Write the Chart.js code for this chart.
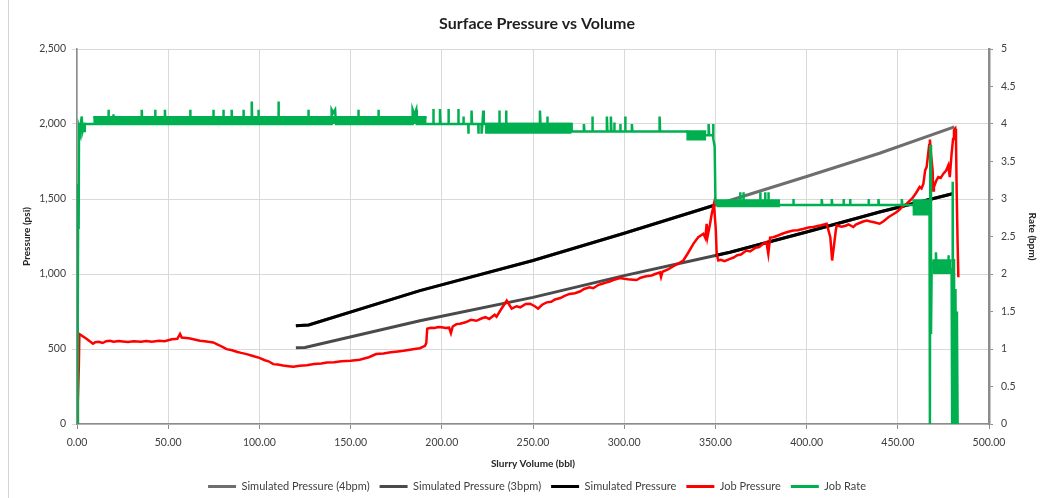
<!DOCTYPE html>
<html><head><meta charset="utf-8">
<script src="https://cdn.jsdelivr.net/npm/chart.js@4.4.1/dist/chart.umd.min.js"></script>
<style>
html,body{margin:0;padding:0;background:#fff;}
#wrap{position:relative;width:1058px;height:498px;}
#frame{position:absolute;left:8px;top:0;width:0;height:498px;border-left:1px solid #d4d4d4;}
canvas{position:absolute;left:0;top:0;}
</style>
</head><body>
<div id="wrap"><div id="frame"></div><canvas id="c" width="1058" height="498"></canvas></div>
<script>
// ---- data (x = slurry volume bbl) ----
const sim4Volume   = [120, 127, 188, 250, 300, 349, 400, 440, 481];
const sim4Pressure = [655, 660, 889, 1090, 1272, 1457, 1650, 1805, 1981];

const sim3Volume   = [120, 125, 188, 250, 300, 350, 358, 400, 440, 480];
const sim3Pressure = [508, 510, 688, 844, 989, 1123, 1145, 1280, 1413, 1535];

const simVolume    = [120, 127, 188, 250, 300, 349, 349.5, 350, 358, 400, 440, 480];
const simPressure  = [655, 660, 889, 1090, 1272, 1457, null, 1123, 1145, 1280, 1413, 1535];

const jobPressure = [
 [0,0],[0.5,150],[1,380],[1.3,600],[2.5,590],[5,570],[8.8,535],[10,545],[12,548],[14,540],[16,552],[18,555],
 [20,548],[23,553],[25,550],[28,546],[31,551],[35,548],[38,553],[41,549],[45,555],[48,552],[52,565],[55,568],
 [56.5,600],[57.4,577],[60,574],[62,570],[65,562],[67.4,555],[70,552],[72,548],[74.7,544],[78,525],
 [80,512],[82,499],[85,492],[88,480],[90,474],[93,466],[96,455],[100,441],[103,425],[105,418],[107.6,399],
 [110,396],[113,390],[116,385],[118.6,381],[122,388],[126,392],[130,400],[134,404],[137,410],[141,412],
 [145,418],[150,422],[155,428],[158,438],[160,445],[164,466],[168,470],[172,478],[176,484],[179,488],[182.6,495],
 [185,500],[188,505],[190.8,521],[191.5,540],[192,635],[194,642],[196,640],[198,646],[200,645],[202,640],
 [204,642],[205,605],[206,650],[208,666],[210,668],[213,678],[216,695],[219,688],[222,705],[224,712],
 [226,700],[229,728],[230,715],[232,755],[235.6,822],[238.3,769],[241,785],[243,778],[246,800],[248.4,802],
 [251,785],[252.8,769],[255,795],[257.5,811],[260,815],[262,830],[265,840],[267,852],[270,867],[273,872],
 [276,885],[278,900],[281,911],[283,905],[286,928],[288,935],[290.4,944],[292,950],[294,960],[297.7,973],
 [300,968],[302,965],[305,962],[306.8,960],[309,975],[312,985],[315,990],[317,1000],[319.6,1011],[320.2,980],
 [321,1015],[324,1030],[326,1045],[329,1065],[332.4,1090],[335,1140],[337.9,1201],[340.6,1245],[343.4,1268],[344.5,1240],
 [345.2,1335],[345.7,1250],[347,1330],[348,1402],[349.2,1468],[350.2,1300],[350.7,1134],[351.6,1090],[353,1095],[355,1085],
 [358,1101],[360,1110],[362,1125],[364,1130],[367,1156],[369,1150],[372,1175],[374,1180],[376,1200],[378,1212],
 [379,1134],[380,1243],[381.8,1245],[384,1255],[387,1270],[390,1282],[392.7,1290],[395,1292],[398,1300],[401,1310],
 [403.7,1313],[406,1320],[408,1325],[411,1335],[413,1245],[414,1090],[416,1290],[416.5,1324],[419,1315],[421,1320],
 [423,1330],[425.6,1313],[427,1330],[429,1340],[431,1350],[433,1357],[435,1350],[437,1345],[440,1335],[442,1350],
 [445,1380],[447,1395],[449.4,1413],[451,1430],[453,1455],[455,1470],[456.7,1490],[458,1505],[460,1540],[462,1580],
 [463,1570],[464,1600],[465,1691],[465.8,1713],[467.2,1860],[467.6,1896],[468.2,1800],[469.1,1691],[469.4,1557],[469.8,1580],
 [471,1620],[472.2,1646],[473.5,1640],[475,1669],[476.5,1690],[477.7,1725],[478.5,1646],[479.5,1803],[480.3,1900],[480.8,1958],
 [481.5,1969],[481.9,1900],[482.3,1535],[482.8,1200],[483.2,978]
];

const jobRate = [
 [0,0],[0.3,1.2],[0.4,2.4],[0.5,1.4],[0.7,3.2],[0.9,2.6],[1.1,3.95],[1.6,3.9],[2.6,4.1],[3.0,3.9],[4,4.0],[5,4.0],
 [10.8,4.0],[10.8,4.1],[11.1,4.0],[13.5,4.0],[13.5,4.1],[13.8,4.0],[17.2,4.0],[17.2,4.19],[17.5,4.0],
 [20,4.0],[20,4.13],[20.3,4.0],[22.8,4.0],[22.8,4.1],[23.1,4.0],[35.5,4.0],[35.5,4.19],[35.8,4.0],
 [42.8,4.0],[42.8,4.19],[43.1,4.0],[48.2,4.0],[48.2,4.19],[48.5,4.0],[62,4.0],[62,4.19],[62.3,4.0],
 [74.7,4.0],[74.7,4.19],[75,4.0],[80.2,4.0],[80.2,4.19],[80.5,4.0],[84.8,4.0],[84.8,4.19],[85.1,4.0],
 [91.2,4.0],[91.2,4.19],[91.5,4.0],[95.8,4.0],[95.8,4.3],[96.1,4.0],[99.4,4.0],[99.4,4.19],[99.7,4.0],
 [110.4,4.0],[110.4,4.3],[110.7,4.0],[126.8,4.0],[126.8,4.19],[127.1,4.0],[139.6,4.0],[139.6,4.19],[140.5,4.15],
 [141.5,4.19],[142,4.0],[154.2,4.0],[154.2,4.19],[154.5,4.0],[165.2,4.0],[165.2,4.19],[165.5,4.0],
 [184,4.0],[184,4.19],[185,4.12],[186,4.19],[186.3,4.0],[195.3,4.0],[195.3,4.2],[195.6,4.0],
 [199,4.0],[199,4.2],[199.3,4.0],[203.6,4.0],[203.6,4.2],[203.9,4.0],[209,4.0],[209,4.2],[209.3,4.0],
 [211.8,4.0],[211.8,4.1],[212.1,4.0],[214.5,4.0],[214.5,3.87],[214.8,4.0],[216.3,4.0],[216.3,4.18],[216.6,4.0],
 [220,4.0],[220,3.87],[220.3,4.0],[221.8,4.0],[221.8,3.87],[222.3,4.0],[222.7,4.18],[223,4.0],
 [231.5,4.0],[231.5,4.18],[231.8,4.0],[235.2,4.0],[235.2,4.18],[235.5,4.0],[253.8,4.0],[253.8,4.18],[254.1,4.0],
 [257.8,4.0],[257.8,4.1],[258.1,4.0],[271.2,4.0],[271.2,3.9],[277.9,3.9],[277.9,4.0],[278.2,3.9],
 [282.5,3.9],[282.5,4.1],[282.8,3.9],[290.5,3.9],[290.5,4.1],[290.8,3.9],[292.7,3.9],[292.7,4.1],[293,3.9],
 [294.5,3.9],[294.5,4.02],[294.8,3.9],[297.8,3.9],[297.8,4.0],[298.1,3.9],[300.5,3.9],[300.5,4.1],[300.8,3.9],
 [304.2,3.9],[304.2,4.0],[304.5,3.9],[319.4,3.9],[319.4,4.1],[319.7,3.9],[334,3.9],[345,3.85],
 [346.3,3.85],[346.3,4.0],[346.6,3.85],[348.7,3.85],[348.7,4.0],[349,3.8],[349.6,3.7],[350,3.0],[350.2,2.95],
 [363.5,2.95],[363.5,3.09],[363.8,2.95],[365.3,2.95],[365.3,3.09],[365.6,2.95],[374.5,2.95],[374.5,3.09],[374.8,2.95],
 [377.2,2.95],[377.2,3.09],[377.5,2.95],[379,2.95],[379,3.09],[379.3,2.95],[385.4,2.92],
 [392.7,2.92],[392.7,3.0],[393,2.92],[408.3,2.92],[408.3,3.0],[408.6,2.92],[413.8,2.92],[413.8,3.0],[414.1,2.92],
 [420.2,2.92],[420.2,3.0],[420.5,2.92],[423.8,2.92],[423.8,3.0],[424.1,2.92],[433.9,2.92],[433.9,3.0],[434.2,2.92],
 [439.4,2.92],[439.4,3.0],[439.7,2.92],[452.2,2.92],[452.2,3.0],[452.5,2.92],[458,2.92],[467.4,2.85],
 [467.6,0],[467.8,3.72],[468.2,1.2],[468.6,2.15],[469,2.1],[470.9,2.1],[470.9,2.29],[471.2,2.1],
 [477.7,2.1],[477.7,2.25],[478,2.1],[479.5,2.05],[479.8,0],[480.1,3.23],[480.4,0],[480.8,2.2],
 [481.2,0],[481.6,1.8],[482,0],[482.4,1.5],[482.8,0]
];

// dense noisy sections of the rate trace: [start, end, low, high]
const rateBands = [
 [0.5, 5, 3.89, 4.0],
 [8.9, 191.7, 4.0, 4.09],
 [223.7, 271.2, 3.87, 4.0],
 [334, 345, 3.78, 3.9],
 [350.5, 385.4, 2.89, 2.98],
 [458, 467.4, 2.78, 2.98],
 [469, 479.5, 2.0, 2.18],
 [480.5, 482.8, 0, 1.2]
];

const seriesNames = ['Simulated Pressure (4bpm)', 'Simulated Pressure (3bpm)', 'Simulated Pressure', 'Job Pressure', 'Job Rate'];
const seriesColors = ['#6e6e6e', '#4a4a4a', '#000000', '#ff0000', '#00b050'];

// ---- build ----
const zip = (xs, ys) => xs.map((x, i) => ({x, y: ys[i]}));
const pts = arr => arr.map(p => ({x: p[0], y: p[1]}));
const base = {pointRadius: 0, pointHoverRadius: 0, tension: 0, fill: false};

const datasets = [
 {...base, label: seriesNames[0], data: zip(sim4Volume, sim4Pressure), borderColor: seriesColors[0], backgroundColor: seriesColors[0], borderWidth: 3, yAxisID: 'y', order: 4},
 {...base, label: seriesNames[1], data: zip(sim3Volume, sim3Pressure), borderColor: seriesColors[1], backgroundColor: seriesColors[1], borderWidth: 3, yAxisID: 'y', order: 3},
 {...base, label: seriesNames[2], data: zip(simVolume, simPressure), borderColor: seriesColors[2], backgroundColor: seriesColors[2], borderWidth: 3, yAxisID: 'y', order: 2, spanGaps: false},
 {...base, label: seriesNames[3], data: pts(jobPressure), borderColor: seriesColors[3], backgroundColor: seriesColors[3], borderWidth: 2.5, yAxisID: 'y', order: 1},
 {...base, label: seriesNames[4], data: pts(jobRate), borderColor: seriesColors[4], backgroundColor: seriesColors[4], borderWidth: 2.5, yAxisID: 'y1', order: 0}
];
rateBands.forEach(b => {
 datasets.push({...base, label: '_band', data: [{x: b[0], y: b[3]}, {x: b[1], y: b[3]}],
   borderColor: seriesColors[4], backgroundColor: seriesColors[4], borderWidth: 2.5,
   fill: {value: b[2]}, yAxisID: 'y1', order: 0});
});

Chart.defaults.font.family = 'Lato, "Open Sans", sans-serif';
Chart.defaults.color = '#404040';

new Chart(document.getElementById('c'), {
 type: 'line',
 data: {datasets},
 options: {
  responsive: false,
  animation: false,
  events: [],
  layout: {padding: {left: 16, right: 0, top: 0, bottom: -4}},
  plugins: {
   title: {display: true, text: 'Surface Pressure vs Volume', color: '#1f1f1f',
     font: {size: 16, weight: 'bold'}, padding: {top: 14.4, bottom: 15.4}},
   legend: {position: 'bottom',
     labels: {boxWidth: 28, boxHeight: 3, padding: 10, color: '#404040', font: {size: 11},
       filter: item => item.text !== '_band',
       sort: (a, b) => a.datasetIndex - b.datasetIndex,
       generateLabels: chart => Chart.defaults.plugins.legend.labels.generateLabels(chart).map(l => ({...l, lineWidth: 0, fillStyle: l.strokeStyle}))
     }},
   tooltip: {enabled: false}
  },
  scales: {
   x: {type: 'linear', min: 0, max: 500,
     ticks: {stepSize: 50, callback: v => Number(v).toFixed(2), color: '#404040', font: {size: 10.5}, padding: 7, maxRotation: 0, autoSkip: false},
     grid: {color: '#d9d9d9', lineWidth: 1, tickLength: 5, tickColor: '#8c8c8c'},
     border: {color: '#8c8c8c', width: 1.5},
     title: {display: true, text: 'Slurry Volume (bbl)', color: '#262626', font: {size: 10, weight: 'bold'}, padding: {top: 0, bottom: 1}},
     afterFit: s => { s.height = 47; }
   },
   y: {position: 'left', min: 0, max: 2500,
     ticks: {stepSize: 500, callback: v => Number(v).toLocaleString('en-US'), color: '#404040', font: {size: 10.5}, padding: 6},
     grid: {color: '#d9d9d9', lineWidth: 1, tickLength: 5, tickColor: '#d9d9d9'},
     border: {color: '#8c8c8c', width: 1.5},
     title: {display: true, text: 'Pressure (psi)', color: '#262626', font: {size: 10, weight: 'bold'}, padding: {top: 4.4, bottom: 0}},
     afterFit: s => { s.width = 61; }
   },
   y1: {position: 'right', min: 0, max: 5,
     ticks: {stepSize: 0.5, callback: v => String(v), color: '#404040', font: {size: 10.5}, padding: 8},
     grid: {drawOnChartArea: false, tickLength: 4, tickColor: '#8c8c8c'},
     border: {color: '#8c8c8c', width: 2.5},
     title: {display: true, text: 'Rate (bpm)', color: '#262626', font: {size: 10, weight: 'bold'}, padding: {top: 20, bottom: 0}},
     afterFit: s => { s.width = 69; }
   }
  }
 }
});
</script>
</body></html>
